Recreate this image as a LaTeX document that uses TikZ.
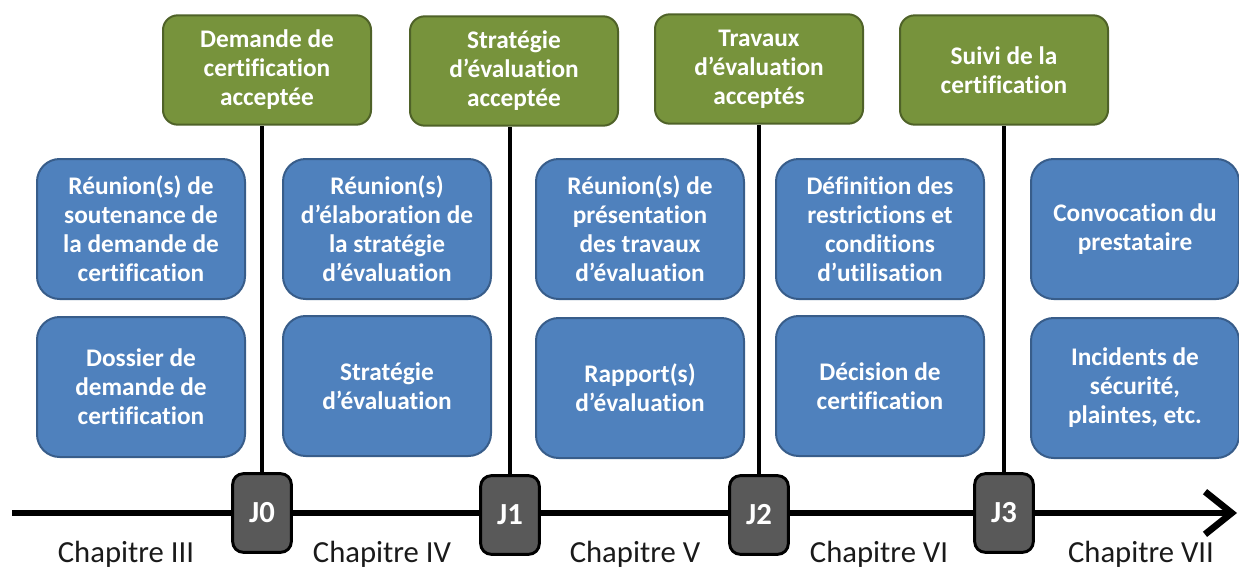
\documentclass[tikz,border=0pt]{standalone}
\usepackage{fontspec}
\setmainfont{Carlito}[Ligatures=NoCommon]
\usetikzlibrary{arrows.meta,backgrounds}

\definecolor{jalonvert}{HTML}{77933C}
\definecolor{jalonvertbord}{HTML}{4F6228}
\definecolor{etapebleu}{HTML}{4F81BD}
\definecolor{etapebleubord}{HTML}{385D8A}
\definecolor{jalongris}{HTML}{595959}
\definecolor{chapitretexte}{HTML}{1A1A1A}

\begin{document}
\begin{tikzpicture}[x=0.75pt,y=-0.75pt,
  boxtext/.style={text=white, font=\fontsize{19}{21.75}\selectfont\bfseries,
    align=center, inner sep=0pt},
  jalon/.style={boxtext, rectangle, rounded corners=11pt, fill=jalonvert,
    draw=jalonvertbord, line width=1.5pt, minimum width=156pt, minimum height=82pt},
  etape/.style={boxtext, rectangle, rounded corners=17pt, fill=etapebleu,
    draw=etapebleubord, line width=1.5pt, minimum width=156pt, minimum height=105pt},
  jour/.style={boxtext, font=\fontsize{23}{27}\selectfont\bfseries, rectangle,
    rounded corners=8pt, fill=jalongris, draw=black, line width=2.2pt,
    minimum width=44pt, minimum height=59pt},
  lien/.style={draw=black, line width=3pt},
  axe/.style={draw=black, line width=5pt, -{Straight Barb[length=20pt,width=32pt]}},
  chapitre/.style={text=chapitretexte, font=\fontsize{23}{27}\selectfont,
    inner sep=0pt, anchor=base}]

\useasboundingbox (0,0) rectangle (1239,568);

% Milestones at the top
\node[jalon] (g0) at (267,70)  {Demande de\\certification\\acceptée};
\node[jalon] (g1) at (514,71)  {Stratégie\\d’évaluation\\acceptée};
\node[jalon] (g2) at (759,69)  {Travaux\\d’évaluation\\acceptés};
\node[jalon] (g3) at (1004,70) {Suivi de la\\certification};

% Activities (first row)
\node[etape] (a1) at (141,229)  {Réunion(s) de\\soutenance de\\la demande de\\certification};
\node[etape] (a2) at (387,229)  {Réunion(s)\\d’élaboration de\\la stratégie\\d’évaluation};
\node[etape] (a3) at (640,229)  {Réunion(s) de\\présentation\\des travaux\\d’évaluation};
\node[etape] (a4) at (880,229)  {Définition des\\restrictions et\\conditions\\d’utilisation};
\node[etape] (a5) at (1135,229) {Convocation du\\prestataire};

% Deliverables (second row)
\node[etape] (b1) at (141,387)  {Dossier de\\demande de\\certification};
\node[etape] (b2) at (387,386)  {Stratégie\\d’évaluation};
\node[etape] (b3) at (640,388)  {Rapport(s)\\d’évaluation};
\node[etape] (b4) at (880,386)  {Décision de\\certification};
\node[etape] (b5) at (1135,388) {Incidents de\\sécurité,\\plaintes, etc.};

% Time axis
\coordinate (debut) at (12,513);
\coordinate (fin) at (1237,513);
\begin{pgfonlayer}{background}
  \draw[axe] (debut) -- (fin);
\end{pgfonlayer}

% Day markers on the axis
\node[jour] (j0) at (262,513)  {J0};
\node[jour] (j1) at (510,515)  {J1};
\node[jour] (j2) at (759,515)  {J2};
\node[jour] (j3) at (1004,513) {J3};

% Links between milestones and day markers
\draw[lien] (j0.north) -- (j0.north |- g0.south);
\draw[lien] (j1.north) -- (j1.north |- g1.south);
\draw[lien] (j2.north) -- (j2.north |- g2.south);
\draw[lien] (j3.north) -- (j3.north |- g3.south);

% Chapter labels
\node[chapitre] (c3) at (126,562)  {Chapitre III};
\node[chapitre] (c4) at (382,562)  {Chapitre IV};
\node[chapitre] (c5) at (635,562)  {Chapitre V};
\node[chapitre] (c6) at (879,562)  {Chapitre VI};
\node[chapitre] (c7) at (1141,562) {Chapitre VII};

\end{tikzpicture}
\end{document}
